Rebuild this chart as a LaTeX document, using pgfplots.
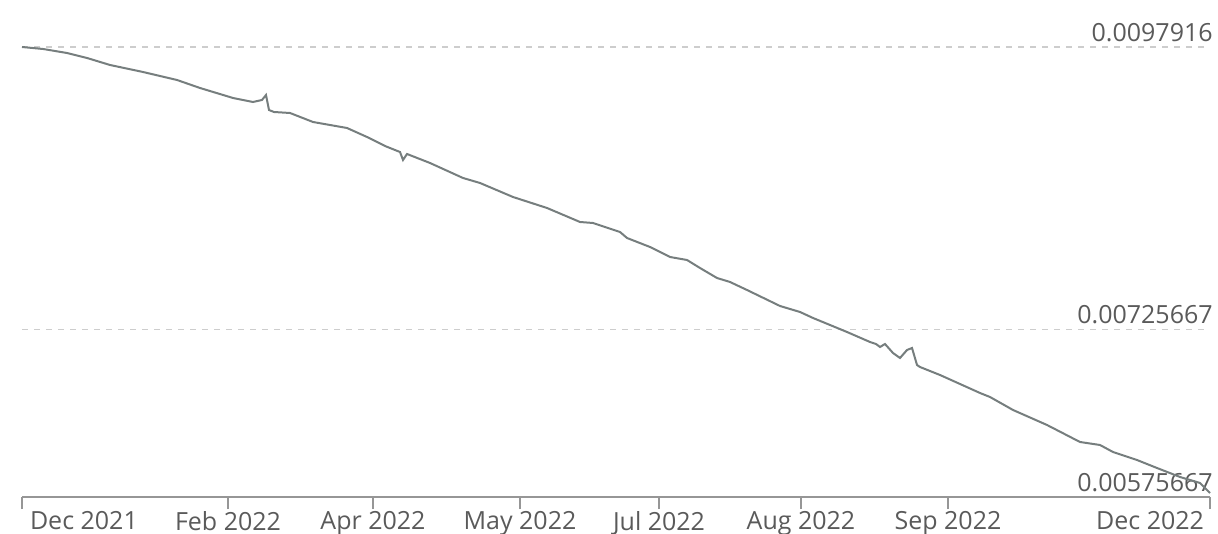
\documentclass[border=0pt]{standalone}
\usepackage{fontspec}
\setmainfont{Open Sans}
\usepackage{pgfplots}
\pgfplotsset{compat=1.18}

\definecolor{linegray}{RGB}{118,126,126}
\definecolor{gridgray}{RGB}{205,205,205}
\definecolor{axisgray}{RGB}{150,150,150}
\definecolor{textgray}{RGB}{90,90,90}

\begin{document}
\begin{tikzpicture}
\useasboundingbox (0,0) rectangle (609pt,267pt);
\begin{axis}[
	at={(11pt,18.5pt)}, anchor=south west,
	scale only axis,
	width=594pt, height=248.5pt,
	xmin=0, xmax=1188,
	ymin=0.00575667, ymax=0.01021303,
	scaled y ticks=false,
	scaled x ticks=false,
	axis x line*=bottom,
	axis y line*=right,
	x axis line style={axisgray, line width=1pt},
	y axis line style={draw=none},
	xtick={0,206,351,498,637,779,926,1188},
	xticklabels={\rlap{\hspace{4pt}Dec 2021},Feb 2022,Apr 2022,May 2022,Jul 2022,Aug 2022,Sep 2022,\llap{Dec 2022\hspace{3pt}}},
	xtick style={axisgray, line width=0.8pt},
	tick align=outside,
	major tick length=6pt,
	xticklabel style={anchor=north, inner sep=0pt, yshift=-1pt, font=\fontsize{12.5}{14}\selectfont, text=textgray},
	ytick={0.00575667,0.00725667,0.0097916},
	yticklabels={0.00575667,0.00725667,0.0097916},
	ytick style={draw=none},
	yticklabel style={anchor=south east, inner sep=0pt, xshift=-4.5pt, yshift=2.5pt, font=\fontsize{12.5}{14}\selectfont, text=textgray},
	ymajorgrids,
	grid style={gridgray, dash pattern=on 3pt off 3pt, line width=0.6pt},
	clip=false,
]
\addplot[linegray, line width=1pt] coordinates {
	(0,0.0097916) (21,0.0097737) (45,0.0097378) (65,0.0096930) (88,0.0096302)
	(121,0.0095674) (155,0.0094957) (178,0.0094240) (211,0.0093343) (231,0.0092984)
	(240,0.0093164) (244,0.0093612) (247,0.0092267) (252,0.0092088) (268,0.0091998)
	(291,0.0091191) (325,0.0090653) (345,0.0089846) (363,0.0089039) (378,0.0088501)
	(381,0.0087784) (385,0.0088322) (408,0.0087515) (441,0.0086170) (458,0.0085722)
	(491,0.0084466) (525,0.0083480) (558,0.0082225) (571,0.0082135) (598,0.0081328)
	(605,0.0080790) (628,0.0079983) (648,0.0079086) (665,0.0078817) (678,0.0078100)
	(695,0.0077203) (708,0.0076845) (725,0.0076127) (758,0.0074693) (778,0.0074155)
	(791,0.0073617) (825,0.0072361) (848,0.0071465) (854,0.0071285) (858,0.0071016)
	(863,0.0071285) (871,0.0070478) (878,0.0070030) (885,0.0070747) (890,0.0070927)
	(895,0.0069403) (898,0.0069223) (918,0.0068506) (958,0.0066892) (968,0.0066533)
	(991,0.0065368) (1025,0.0064023) (1058,0.0062498) (1078,0.0062229) (1091,0.0061602)
	(1115,0.0060884) (1135,0.0060167) (1158,0.0059360) (1178,0.0058822) (1188,0.0057925)
};
\end{axis}
\end{tikzpicture}
\end{document}
